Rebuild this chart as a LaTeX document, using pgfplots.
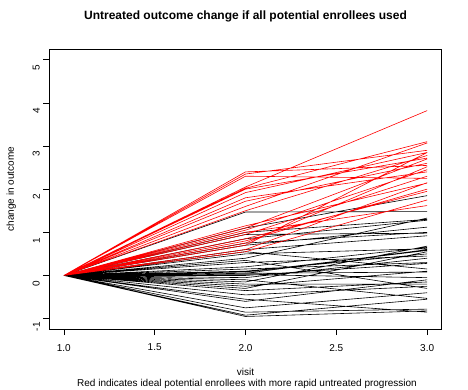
\documentclass[border=0pt]{standalone}
\usepackage{pgfplots}
\pgfplotsset{compat=1.18}
\usepackage{fontspec}
\setmainfont{Liberation Sans}
\begin{document}
\begin{tikzpicture}
\path[use as bounding box] (0,0) rectangle (468pt,-390pt);
\begin{axis}[
  at={(49.3pt,-329pt)}, anchor=south west,
  scale only axis, width=392.4pt, height=279.7pt,
  xmin=0.92, xmax=3.08, ymin=-1.24, ymax=5.24,
  xtick={1,1.5,2,2.5,3}, ytick={-1,0,1,2,3,4,5},
  tick pos=left, tick align=outside, major tick length=6pt,
  tick style={black, line width=0.6pt},
  axis line style={line width=0.6pt},
  unbounded coords=jump,
  every tick label/.append style={font=\fontsize{10}{12}\selectfont},
  /pgf/number format/assume math mode=true,
  x tick label style={/pgf/number format/.cd, fixed, fixed zerofill, precision=1, /tikz/.cd, anchor=north, yshift=-5.5pt},
  y tick label style={rotate=90, anchor=south, xshift=-8pt},
  title={Untreated outcome change if all potential enrollees used},
  title style={at={(0.5,1.0976)}, anchor=center, font=\fontsize{12}{14}\selectfont\bfseries},
  xlabel={visit},
  xlabel style={at={(0.5,-0.154)}, anchor=center, font=\fontsize{10}{12}\selectfont},
  ylabel={change in outcome},
  ylabel style={at={(-0.097,0.5)}, anchor=center, rotate=0, font=\fontsize{10}{12}\selectfont},
]
\addplot[black, line width=0.6pt] table {
x y
1 0
2 1.47
3 1.48
nan nan
1 0
2 1.10
3 1.85
nan nan
1 0
2 1.00
3 1.30
nan nan
1 0
2 0.95
3 0.98
nan nan
1 0
2 0.85
3 1.28
nan nan
1 0
2 0.75
3 1.00
nan nan
1 0
2 0.70
3 1.12
nan nan
1 0
2 0.60
3 0.92
nan nan
1 0
2 0.55
3 0.15
nan nan
1 0
2 0.50
3 0.62
nan nan
1 0
2 0.40
3 1.33
nan nan
1 0
2 0.35
3 -0.30
nan nan
1 0
2 0.30
3 0.45
nan nan
1 0
2 0.20
3 0.65
nan nan
1 0
2 0.10
3 0.50
nan nan
1 0
2 0.08
3 0.58
nan nan
1 0
2 0.05
3 0.08
nan nan
1 0
2 0.05
3 0.60
nan nan
1 0
2 0.02
3 -0.05
nan nan
1 0
2 0.00
3 0.28
nan nan
1 0
2 -0.05
3 0.40
nan nan
1 0
2 -0.10
3 -0.53
nan nan
1 0
2 -0.15
3 0.68
nan nan
1 0
2 -0.20
3 -0.20
nan nan
1 0
2 -0.25
3 0.10
nan nan
1 0
2 -0.30
3 0.55
nan nan
1 0
2 -0.35
3 -0.15
nan nan
1 0
2 -0.55
3 -0.85
nan nan
1 0
2 -0.60
3 -0.10
nan nan
1 0
2 -0.75
3 -0.40
nan nan
1 0
2 -0.85
3 -0.78
nan nan
1 0
2 -0.92
3 -0.55
nan nan
1 0
2 -0.95
3 -0.82
nan nan
1 0
2 0.15
3 0.30
nan nan
1 0
2 -0.45
3 -0.25
};
\addplot[red, line width=0.6pt] table {
x y
1 0
2 2.40
3 2.55
nan nan
1 0
2 2.35
3 2.90
nan nan
1 0
2 2.30
3 2.25
nan nan
1 0
2 2.05
3 3.82
nan nan
1 0
2 2.02
3 3.10
nan nan
1 0
2 2.00
3 2.72
nan nan
1 0
2 1.92
3 2.85
nan nan
1 0
2 1.80
3 2.40
nan nan
1 0
2 1.72
3 2.60
nan nan
1 0
2 1.60
3 3.07
nan nan
1 0
2 1.50
3 2.78
nan nan
1 0
2 1.15
3 2.14
nan nan
1 0
2 1.10
3 2.70
nan nan
1 0
2 1.05
3 2.45
nan nan
1 0
2 0.95
3 2.30
nan nan
1 0
2 0.85
3 1.95
nan nan
1 0
2 0.80
3 2.00
nan nan
1 0
2 0.75
3 2.52
nan nan
1 0
2 0.60
3 2.15
nan nan
1 0
2 0.55
3 1.75
nan nan
1 0
2 1.00
3 1.62
nan nan
1 0
2 0.70
3 2.85
};
\end{axis}
\node[font=\fontsize{10}{12}\selectfont, anchor=center] at (247pt,-384pt) {Red indicates ideal potential enrollees with more rapid untreated progression};
\end{tikzpicture}
\end{document}
